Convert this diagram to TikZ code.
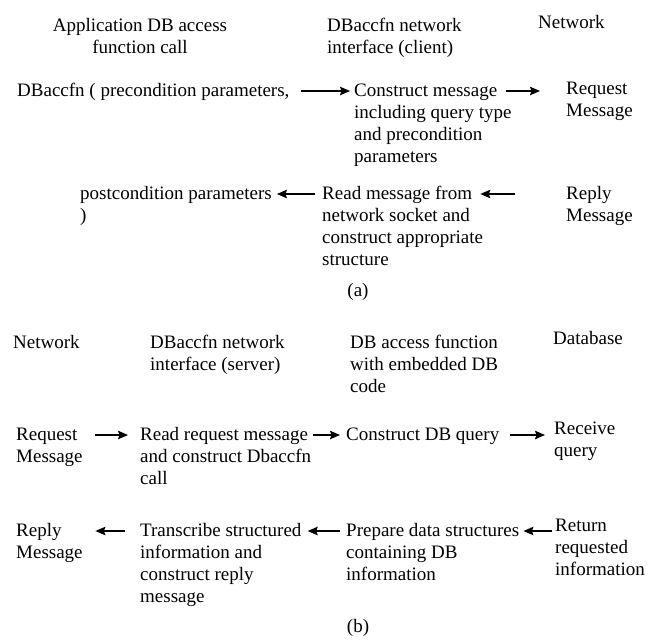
\documentclass[tikz,border=0pt]{standalone}
\usepackage{fontspec}
\setmainfont{Liberation Serif}
\usetikzlibrary{arrows.meta}
\newcommand{\ml}[1]{\begin{tabular}[t]{@{}l@{}}#1\end{tabular}}
\newcommand{\mc}[1]{\begin{tabular}[t]{@{}c@{}}#1\end{tabular}}
\begin{document}
\begin{tikzpicture}[x=1pt,y=-1pt,
  txt/.style={inner sep=0pt, anchor=base west, font=\fontsize{19}{22}\selectfont},
  ctxt/.style={inner sep=0pt, anchor=base, font=\fontsize{19}{22}\selectfont},
  arr/.style={-{Stealth[length=10pt,width=8.5pt,inset=1.5pt]}, line width=1.3pt}]
\useasboundingbox (0,0) rectangle (652,640);
% ---------- (a)
\node[ctxt] (hA1) at (140,31) {\mc{Application DB access\\function call}};
\node[txt] (hA2) at (327,31) {\ml{DBaccfn network\\interface (client)}};
\node[txt] (hA3) at (538,28) {Network};
\node[txt] (callA) at (17,96) {DBaccfn ( precondition parameters,};
\node[txt] (cons) at (354,96) {\ml{Construct message\\including query type\\and precondition\\parameters}};
\node[txt] (reqA) at (566,94) {\ml{Request\\Message}};
\node[txt] (post) at (80,199) {\ml{postcondition parameters\\)}};
\node[txt] (readA) at (322,199) {\ml{Read message from\\network socket and\\construct appropriate\\structure}};
\node[txt] (repA) at (566,199) {\ml{Reply\\Message}};
\node[ctxt] (capA) at (358,296) {(a)};
\draw[arr, shorten <=11pt, shorten >=4pt] ([yshift=5pt]callA.base east) -- ([yshift=5pt]cons.base west);
\draw[arr, shorten <=-6pt, shorten >=26pt] ([yshift=5pt]cons.base east) -- ([yshift=3pt]reqA.base west);
\draw[arr, shorten <=51pt, shorten >=-3pt] ([yshift=5pt]repA.base west) -- ([yshift=5pt]readA.base east);
\draw[arr, shorten <=7pt, shorten >=5pt] ([yshift=5pt]readA.base west) -- ([yshift=5pt]post.base east);
% ---------- (b)
\node[txt] (hB1) at (13,348) {Network};
\node[txt] (hB2) at (150,348) {\ml{DBaccfn network\\interface (server)}};
\node[txt] (hB3) at (350,348) {\ml{DB access function\\with embedded DB\\code}};
\node[txt] (hB4) at (553,344) {Database};
\node[txt] (reqB) at (16,440) {\ml{Request\\Message}};
\node[txt] (readB) at (140,440) {\ml{Read request message\\and construct Dbaccfn\\call}};
\node[txt] (cdq) at (346,440) {Construct DB query};
\node[txt] (rcv) at (554,434) {\ml{Receive\\query}};
\node[txt] (repB) at (16,536) {\ml{Reply\\Message}};
\node[txt] (trans) at (140,536) {\ml{Transcribe structured\\information and\\construct reply\\message}};
\node[txt] (prep) at (346,536) {\ml{Prepare data structures\\containing DB\\information}};
\node[txt] (ret) at (555,531) {\ml{Return\\requested\\information}};
\node[ctxt] (capB) at (358,632) {(b)};
\draw[arr, shorten <=12.5pt, shorten >=12pt] ([yshift=5pt]reqB.base east) -- ([yshift=5pt]readB.base west);
\draw[arr, shorten <=2pt, shorten >=6pt] ([yshift=5pt]readB.base east) -- ([yshift=5pt]cdq.base west);
\draw[arr, shorten <=11pt, shorten >=9pt] ([yshift=5pt]cdq.base east) -- ([yshift=-1pt]rcv.base west);
\draw[arr, shorten <=3pt, shorten >=4pt] ([yshift=0pt]ret.base west) -- ([yshift=5pt]prep.base east);
\draw[arr, shorten <=6pt, shorten >=6pt] ([yshift=5pt]prep.base west) -- ([yshift=5pt]trans.base east);
\draw[arr, shorten <=15pt, shorten >=12.5pt] ([yshift=5pt]trans.base west) -- ([yshift=5pt]repB.base east);
\end{tikzpicture}
\end{document}
